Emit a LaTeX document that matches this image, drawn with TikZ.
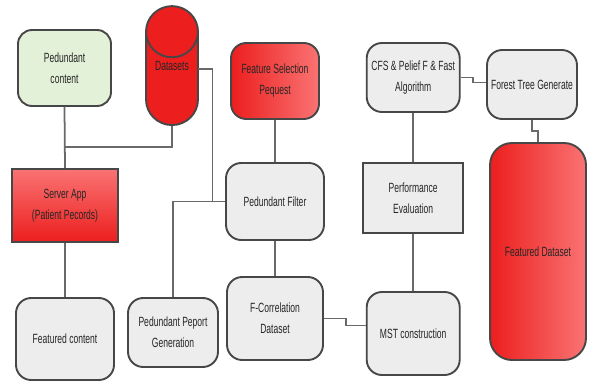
\documentclass[tikz,border=0pt]{standalone}
\usepackage{fontspec}
\setmainfont{Liberation Sans}[FakeStretch=0.64]
\usepackage{xcolor}
\usetikzlibrary{shapes.geometric}

\definecolor{boxred}{RGB}{236,30,30}
\definecolor{boxpink}{RGB}{250,115,115}
\definecolor{boxgreen}{RGB}{226,241,216}
\definecolor{boxgray}{RGB}{237,237,237}
\definecolor{linegray}{RGB}{105,105,105}

\begin{document}
\begin{tikzpicture}[
        box/.style={draw=black!72, line width=1.35pt, align=center, text=black!85,
            font=\fontsize{9.5}{15}\selectfont, inner sep=2pt},
        graybox/.style={box, fill=boxgray, rounded corners=0.38cm},
        squarebox/.style={box, fill=boxgray},
        redbox/.style={box, left color=boxred, right color=boxpink, rounded corners=0.38cm},
        link/.style={draw=linegray, line width=1.25pt}
    ]
        \useasboundingbox (0, 0) rectangle (14.725, 9.55);

        % left column
        \node[box, fill=boxgreen, rounded corners=0.35cm, minimum width=2.325cm, minimum height=1.9cm]
            (rcont) at (1.6125, 7.85) {Pedundant\\content};
        \node[box, top color=boxpink, bottom color=boxred, minimum width=2.65cm, minimum height=1.825cm]
            (server) at (1.625, 4.4125) {Server App\\(Patient Pecords)};
        \node[graybox, minimum width=2.45cm, minimum height=2.05cm]
            (fcont) at (1.625, 1.075) {Featured content};

        % datasets and filter
        \node[box, cylinder, shape border rotate=90, aspect=1.3, fill=boxred,
            minimum width=1.3cm, minimum height=2.9cm, anchor=south]
            (dsets) at (4.3, 6.4) {\raisebox{0.95cm}{Datasets}};
        \node[graybox, minimum width=2.25cm, minimum height=1.725cm]
            (rrep) at (4.325, 1.2375) {Pedundant Peport\\Generation};

        \node[redbox, minimum width=2.2cm, minimum height=1.9cm]
            (fsreq) at (6.875, 7.525) {Feature Selection\\Pequest};
        \node[graybox, minimum width=2.45cm, minimum height=1.925cm]
            (rfilt) at (6.875, 4.5125) {Pedundant Filter};
        \node[graybox, minimum width=2.4cm, minimum height=2.075cm]
            (fcorr) at (6.875, 1.5875) {F-Correlation\\Dataset};

        % algorithm column
        \node[graybox, minimum width=2.325cm, minimum height=1.725cm]
            (cfs) at (10.33, 7.6125) {CFS \& Pelief F \& Fast\\Algorithm};
        \node[squarebox, minimum width=2.5cm, minimum height=1.75cm]
            (perf) at (10.33, 4.6) {Performance\\Evaluation};
        \node[graybox, minimum width=2.325cm, minimum height=2.075cm]
            (mst) at (10.33, 1.2125) {MST construction};

        \node[graybox, minimum width=2.25cm, minimum height=1.725cm]
            (forest) at (13.3, 7.4375) {Forest Tree Generate};
        \node[redbox, rounded corners=0.55cm, minimum width=2.4cm, minimum height=5.425cm]
            (fdata) at (13.45, 3.2625) {Featured Dataset};

        % connectors
        \draw[link] (dsets.south) -- ++(0, -0.525) -| (rcont.south);
        \draw[link] (rcont.south) -- (server.north);
        \draw[link] (server.south) -- (fcont.north);
        \draw[link] (dsets.south) ++(0.66, 1.425) -- ++(0.35, 0) |- (rfilt.west);
        \draw[link] (rfilt.west) -| (rrep.north);
        \draw[link] (fsreq.south) -- (rfilt.north);
        \draw[link] (rfilt.south) -- (fcorr.north);
        \draw[link] (fcorr.east) -- ++(0.55, 0) |- ([yshift=0.2cm]mst.west);
        \draw[link] (cfs.south) -- (perf.north);
        \draw[link] (perf.south) -- (mst.north);
        \draw[link] (cfs.east) -- ++(0.3, 0) |- ([yshift=0.05cm]forest.west);
        \draw[link] (forest.south) -- ++(0, -0.275) -| (fdata.north);

    \end{tikzpicture}
\end{document}
